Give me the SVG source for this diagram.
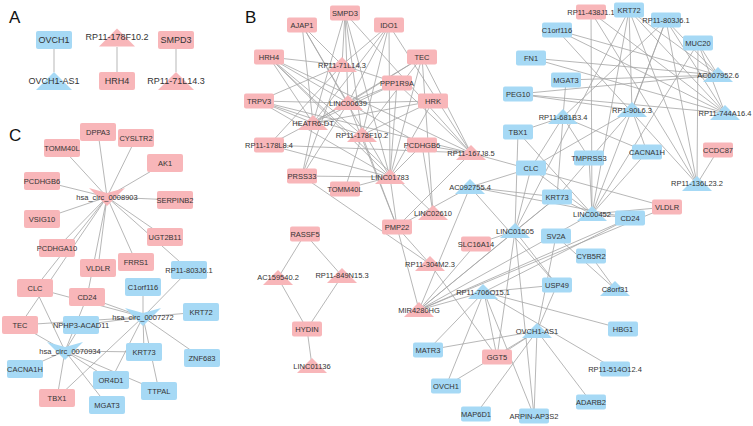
<svg xmlns="http://www.w3.org/2000/svg" xmlns:xlink="http://www.w3.org/1999/xlink" width="753" height="426" viewBox="0 0 753 426">
<style>
.e{stroke:#a4a4a4;stroke-width:0.8;fill:none}
.p{fill:#f8b6b9}
.b{fill:#a6d9f5}
text{font-family:"Liberation Sans",Arial,sans-serif;font-size:7.5px;fill:#333;text-anchor:middle;dominant-baseline:central}
#panelA text{font-size:9px}
text.lbl{font-size:17px;text-anchor:start;dominant-baseline:auto;fill:#111}
</style>
<defs>
<rect id="rB" x="-15" y="-7.5" width="30" height="15" rx="2"/>
<polygon id="tB" points="0,-8 -15,7 15,7"/>
<rect id="rC" x="-18" y="-9" width="36" height="18" rx="2"/>
<polygon id="vC" points="-18,-9 0,-4 18,-9 0,9"/>
<polygon id="tA" points="0,-9 -18,9 18,9"/>
</defs>
<rect width="753" height="426" fill="#fff"/>
<text class="lbl" x="9" y="23">A</text>
<text class="lbl" x="245" y="23">B</text>
<text class="lbl" x="9" y="141">C</text>
<g id="edges">
<path class="e" d="M54 49L54 72M117 47L117 72M176 49L176 72"/>
<path class="e" d="M107 197L98 132M107 197L136 138M107 197L62 148M107 197L165 163M107 197L42 181M107 197L175 200M107 197L42 219M107 197L165 237M107 197L57 248M107 197L136 262M107 197L98 268M107 197L87 297M107 197L35 288M107 197L20 325M107 197L189 270"/>
<path class="e" d="M143 317L143 287M143 317L189 270M143 317L201 312M143 317L202 358M143 317L144 352M143 317L159 391M143 317L111 380M143 317L57 398M143 317L81 325M143 317L20 325M143 317L35 288M143 317L87 297"/>
<path class="e" d="M65 351L35 288M65 351L20 325M65 351L87 297M65 351L25 369M65 351L57 398M65 351L107 405M65 351L111 380M65 351L159 391M65 351L144 352M65 351L81 325"/>
<path class="e" d="M342 65L345 13M342 65L302 25M342 65L389 25M342 65L269 57M342 65L397 83M342 65L259 101M342 65L269 145M342 65L302 176"/>
<path class="e" d="M348 103L345 13M348 103L302 25M348 103L389 25M348 103L269 57M348 103L422 57M348 103L397 83M348 103L259 101M348 103L433 101M348 103L269 145M348 103L422 145M348 103L302 176M348 103L397 227"/>
<path class="e" d="M313 123L345 13M313 123L302 25M313 123L389 25M313 123L269 57M313 123L422 57M313 123L397 83M313 123L259 101M313 123L433 101M313 123L302 176"/>
<path class="e" d="M362 135L345 13M362 135L389 25M362 135L269 57M362 135L422 57M362 135L259 101M362 135L433 101M362 135L345 189M362 135L397 227"/>
<path class="e" d="M390 177L345 13M390 177L302 25M390 177L389 25M390 177L269 57M390 177L422 57M390 177L397 83M390 177L259 101M390 177L433 101M390 177L269 145M390 177L422 145M390 177L302 176M390 177L345 189M390 177L397 227"/>
<path class="e" d="M471 153L345 13M471 153L389 25M471 153L269 57M471 153L422 57M471 153L397 83M471 153L259 101M471 153L269 145M471 153L422 145M471 153L397 227M471 153L667 207"/>
<path class="e" d="M433 213L422 57M433 213L422 145M433 213L269 57"/>
<path class="e" d="M430 264L302 176M430 264L397 227M430 264L497 357"/>
<path class="e" d="M419 310L397 227M419 310L470 187M419 310L476 244M419 310L484 292M419 310L630 218M419 310L667 207M419 310L557 197"/>
<path class="e" d="M470 187L397 227M470 187L531 168M470 187L557 197M470 187L557 285M470 187L630 218"/>
<path class="e" d="M305 234L278 278M305 234L342 276M307 329L278 278M307 329L342 276M307 329L312 366"/>
<path class="e" d="M592 214L591 12M592 214L629 10M592 214L666 20M592 214L698 43M592 214L589 158M592 214L647 152M592 214L531 168M592 214L557 197M592 214L630 218M592 214L667 207M592 214L518 132M592 214L419 310"/>
<path class="e" d="M563 117L566 80M563 117L518 132M563 117L531 168M563 117L557 197M563 117L589 158M563 117L647 152M563 117L666 20"/>
<path class="e" d="M632 110L629 10M632 110L666 20M632 110L531 168M632 110L557 197M632 110L647 152M632 110L518 94"/>
<path class="e" d="M725 113L591 12M725 113L629 10M725 113L666 20M725 113L557 30M725 113L698 43M725 113L531 58M725 113L518 94"/>
<path class="e" d="M718 75L666 20M718 75L698 43M718 75L557 30M718 75L531 58M718 75L518 94M718 75L566 80M718 75L629 10"/>
<path class="e" d="M697 184L629 10M697 184L666 20M697 184L698 43M697 184L718 150M697 184L557 30M697 184L591 12"/>
<path class="e" d="M515 231L518 132M515 231L531 168M515 231L557 197M515 231L476 244M515 231L557 285M515 231L534 416M515 231L497 357M515 231L629 10M515 231L419 310"/>
<path class="e" d="M484 292L428 350M484 292L446 386M484 292L557 285M484 292L623 329M484 292L497 357M484 292L615 369M484 292L534 416M484 292L630 218"/>
<path class="e" d="M537 331L446 386M537 331L557 285M537 331L556 236M537 331L428 350M537 331L497 357M537 331L476 414M537 331L534 416M537 331L591 402"/>
<path class="e" d="M615 289L591 256M615 289L556 236"/>
</g>
<g id="panelA">
<g id="a-ovch1"><use xlink:href="#rC" class="b" x="54" y="40"/><text x="54" y="40">OVCH1</text></g>
<g id="a-ovch1-as1"><use xlink:href="#tA" class="b" x="54" y="81"/><text x="54" y="81">OVCH1-AS1</text></g>
<g id="a-rp11-178f10-2"><use xlink:href="#tA" class="p" x="117" y="37.5"/><text x="117" y="37">RP11-178F10.2</text></g>
<g id="a-hrh4"><use xlink:href="#rC" class="p" x="117" y="81"/><text x="117" y="81">HRH4</text></g>
<g id="a-smpd3"><use xlink:href="#rC" class="p" x="176" y="40"/><text x="176" y="40">SMPD3</text></g>
<g id="a-rp11-71l14-3"><use xlink:href="#tA" class="p" x="176" y="81"/><text x="176" y="81">RP11-71L14.3</text></g>
</g>
<g id="panelC">
<g id="c-dppa3"><use xlink:href="#rC" class="p" x="98" y="132"/><text x="98" y="132">DPPA3</text></g>
<g id="c-cysltr2"><use xlink:href="#rC" class="p" x="136" y="138"/><text x="136" y="138">CYSLTR2</text></g>
<g id="c-tomm40l"><use xlink:href="#rC" class="p" x="62" y="148"/><text x="62" y="148">TOMM40L</text></g>
<g id="c-ak1"><use xlink:href="#rC" class="p" x="165" y="163"/><text x="165" y="163">AK1</text></g>
<g id="c-pcdhgb6"><use xlink:href="#rC" class="p" x="42" y="181"/><text x="42" y="181">PCDHGB6</text></g>
<g id="c-serpinb2"><use xlink:href="#rC" class="p" x="175" y="200"/><text x="175" y="200">SERPINB2</text></g>
<g id="c-vsig10"><use xlink:href="#rC" class="p" x="42" y="219"/><text x="42" y="219">VSIG10</text></g>
<g id="c-ugt2b11"><use xlink:href="#rC" class="p" x="165" y="237"/><text x="165" y="237">UGT2B11</text></g>
<g id="c-pcdhga10"><use xlink:href="#rC" class="p" x="57" y="248"/><text x="57" y="248">PCDHGA10</text></g>
<g id="c-frrs1"><use xlink:href="#rC" class="p" x="136" y="262"/><text x="136" y="262">FRRS1</text></g>
<g id="c-vldlr"><use xlink:href="#rC" class="p" x="98" y="268"/><text x="98" y="268">VLDLR</text></g>
<g id="c-clc"><use xlink:href="#rC" class="p" x="35" y="288"/><text x="35" y="288">CLC</text></g>
<g id="c-cd24"><use xlink:href="#rC" class="p" x="87" y="297"/><text x="87" y="297">CD24</text></g>
<g id="c-tec"><use xlink:href="#rC" class="p" x="20" y="325"/><text x="20" y="325">TEC</text></g>
<g id="c-tbx1"><use xlink:href="#rC" class="p" x="57" y="398"/><text x="57" y="398">TBX1</text></g>
<g id="c-rp11-803j6-1"><use xlink:href="#rC" class="b" x="189" y="270"/><text x="189" y="270">RP11-803J6.1</text></g>
<g id="c-c1orf116"><use xlink:href="#rC" class="b" x="143" y="287"/><text x="143" y="287">C1orf116</text></g>
<g id="c-krt72"><use xlink:href="#rC" class="b" x="201" y="312"/><text x="201" y="312">KRT72</text></g>
<g id="c-nphp3-acad11"><use xlink:href="#rC" class="b" x="81" y="325"/><text x="81" y="325">NPHP3-ACAD11</text></g>
<g id="c-krt73"><use xlink:href="#rC" class="b" x="144" y="352"/><text x="144" y="352">KRT73</text></g>
<g id="c-znf683"><use xlink:href="#rC" class="b" x="202" y="358"/><text x="202" y="358">ZNF683</text></g>
<g id="c-cacna1h"><use xlink:href="#rC" class="b" x="25" y="369"/><text x="25" y="369">CACNA1H</text></g>
<g id="c-or4d1"><use xlink:href="#rC" class="b" x="111" y="380"/><text x="111" y="380">OR4D1</text></g>
<g id="c-ttpal"><use xlink:href="#rC" class="b" x="159" y="391"/><text x="159" y="391">TTPAL</text></g>
<g id="c-mgat3"><use xlink:href="#rC" class="b" x="107" y="405"/><text x="107" y="405">MGAT3</text></g>
<g id="c-hsa-circ-0008903"><use xlink:href="#vC" class="p" x="107" y="197"/><text x="107" y="197">hsa_circ_0008903</text></g>
<g id="c-hsa-circ-0007272"><use xlink:href="#vC" class="b" x="143" y="317"/><text x="143" y="317">hsa_circ_0007272</text></g>
<g id="c-hsa-circ-0070934"><use xlink:href="#vC" class="b" x="65" y="351"/><text x="70" y="351">hsa_circ_0070934</text></g>
</g>
<g id="panelB">
<g id="b-smpd3"><use xlink:href="#rB" class="p" x="345" y="13"/><text x="345" y="13">SMPD3</text></g>
<g id="b-ajap1"><use xlink:href="#rB" class="p" x="302" y="25"/><text x="302" y="25">AJAP1</text></g>
<g id="b-ido1"><use xlink:href="#rB" class="p" x="389" y="25"/><text x="389" y="25">IDO1</text></g>
<g id="b-hrh4"><use xlink:href="#rB" class="p" x="269" y="57"/><text x="269" y="57">HRH4</text></g>
<g id="b-tec"><use xlink:href="#rB" class="p" x="422" y="57"/><text x="422" y="57">TEC</text></g>
<g id="b-ppp1r9a"><use xlink:href="#rB" class="p" x="397" y="83"/><text x="397" y="83">PPP1R9A</text></g>
<g id="b-trpv3"><use xlink:href="#rB" class="p" x="259" y="101"/><text x="259" y="101">TRPV3</text></g>
<g id="b-hrk"><use xlink:href="#rB" class="p" x="433" y="101"/><text x="433" y="101">HRK</text></g>
<g id="b-rp11-178l8-4"><use xlink:href="#rB" class="p" x="269" y="145"/><text x="269" y="145">RP11-178L8.4</text></g>
<g id="b-pcdhgb6"><use xlink:href="#rB" class="p" x="422" y="145"/><text x="422" y="145">PCDHGB6</text></g>
<g id="b-prss33"><use xlink:href="#rB" class="p" x="302" y="176"/><text x="302" y="176">PRSS33</text></g>
<g id="b-tomm40l"><use xlink:href="#rB" class="p" x="345" y="189"/><text x="345" y="189">TOMM40L</text></g>
<g id="b-pmp22"><use xlink:href="#rB" class="p" x="397" y="227"/><text x="397" y="227">PMP22</text></g>
<g id="b-slc16a14"><use xlink:href="#rB" class="p" x="476" y="244"/><text x="476" y="244">SLC16A14</text></g>
<g id="b-rassf5"><use xlink:href="#rB" class="p" x="305" y="234"/><text x="305" y="234">RASSF5</text></g>
<g id="b-hydin"><use xlink:href="#rB" class="p" x="307" y="329"/><text x="307" y="329">HYDIN</text></g>
<g id="b-ggt5"><use xlink:href="#rB" class="p" x="497" y="357"/><text x="497" y="357">GGT5</text></g>
<g id="b-vldlr"><use xlink:href="#rB" class="p" x="667" y="207"/><text x="667" y="207">VLDLR</text></g>
<g id="b-ccdc87"><use xlink:href="#rB" class="p" x="718" y="150"/><text x="718" y="150">CCDC87</text></g>
<g id="b-rp11-438j1-1"><use xlink:href="#rB" class="p" x="591" y="12"/><text x="591" y="12">RP11-438J1.1</text></g>
<g id="b-rp11-71l14-3"><use xlink:href="#tB" class="p" x="342" y="65"/><text x="342" y="65">RP11-71L14.3</text></g>
<g id="b-linc00639"><use xlink:href="#tB" class="p" x="348" y="103"/><text x="348" y="103">LINC00639</text></g>
<g id="b-heatr6-dt"><use xlink:href="#tB" class="p" x="313" y="123"/><text x="313" y="123">HEATR6-DT</text></g>
<g id="b-rp11-178f10-2"><use xlink:href="#tB" class="p" x="362" y="135"/><text x="362" y="135">RP11-178F10.2</text></g>
<g id="b-rp11-167j8-5"><use xlink:href="#tB" class="p" x="471" y="153"/><text x="471" y="153">RP11-167J8.5</text></g>
<g id="b-linc01783"><use xlink:href="#tB" class="p" x="390" y="177"/><text x="390" y="177">LINC01783</text></g>
<g id="b-linc02610"><use xlink:href="#tB" class="p" x="433" y="213"/><text x="433" y="213">LINC02610</text></g>
<g id="b-rp11-304m2-3"><use xlink:href="#tB" class="p" x="430" y="264"/><text x="430" y="264">RP11-304M2.3</text></g>
<g id="b-ac159540-2"><use xlink:href="#tB" class="p" x="278" y="278"/><text x="278" y="277">AC159540.2</text></g>
<g id="b-rp11-849n15-3"><use xlink:href="#tB" class="p" x="342" y="276"/><text x="342" y="275">RP11-849N15.3</text></g>
<g id="b-linc01136"><use xlink:href="#tB" class="p" x="312" y="366"/><text x="312" y="366">LINC01136</text></g>
<g id="b-mir4280hg"><use xlink:href="#tB" class="p" x="419" y="310"/><text x="419" y="310">MIR4280HG</text></g>
<g id="b-ac092755-4"><use xlink:href="#tB" class="b" x="470" y="187"/><text x="470" y="187">AC092755.4</text></g>
<g id="b-rp11-706o15-1"><use xlink:href="#tB" class="b" x="483" y="292"/><text x="483" y="292">RP11-706O15.1</text></g>
<g id="b-ovch1-as1"><use xlink:href="#tB" class="b" x="537" y="331"/><text x="537" y="331">OVCH1-AS1</text></g>
<g id="b-linc01505"><use xlink:href="#tB" class="b" x="515" y="231"/><text x="515" y="231">LINC01505</text></g>
<g id="b-linc00452"><use xlink:href="#tB" class="b" x="592" y="214"/><text x="592" y="214">LINC00452</text></g>
<g id="b-rp11-136l23-2"><use xlink:href="#tB" class="b" x="697" y="184"/><text x="697" y="183">RP11-136L23.2</text></g>
<g id="b-rp11-681b3-4"><use xlink:href="#tB" class="b" x="563" y="117"/><text x="563" y="117">RP11-681B3.4</text></g>
<g id="b-rp1-90l6-3"><use xlink:href="#tB" class="b" x="632" y="110"/><text x="632" y="110">RP1-90L6.3</text></g>
<g id="b-rp11-744a16-4"><use xlink:href="#tB" class="b" x="725" y="113"/><text x="725" y="113">RP11-744A16.4</text></g>
<g id="b-ac007952-6"><use xlink:href="#tB" class="b" x="718" y="75"/><text x="718" y="75">AC007952.6</text></g>
<g id="b-c8orf31"><use xlink:href="#tB" class="b" x="615" y="289"/><text x="615" y="289">C8orf31</text></g>
<g id="b-matr3"><use xlink:href="#rB" class="b" x="428" y="350"/><text x="428" y="350">MATR3</text></g>
<g id="b-ovch1"><use xlink:href="#rB" class="b" x="446" y="386"/><text x="446" y="386">OVCH1</text></g>
<g id="b-map6d1"><use xlink:href="#rB" class="b" x="476" y="414"/><text x="476" y="414">MAP6D1</text></g>
<g id="b-arpin-ap3s2"><use xlink:href="#rB" class="b" x="534" y="416"/><text x="534" y="416">ARPIN-AP3S2</text></g>
<g id="b-adarb2"><use xlink:href="#rB" class="b" x="591" y="402"/><text x="591" y="402">ADARB2</text></g>
<g id="b-rp11-514o12-4"><use xlink:href="#rB" class="b" x="615" y="369"/><text x="615" y="369">RP11-514O12.4</text></g>
<g id="b-hbg1"><use xlink:href="#rB" class="b" x="623" y="329"/><text x="623" y="329">HBG1</text></g>
<g id="b-usp49"><use xlink:href="#rB" class="b" x="557" y="285"/><text x="557" y="285">USP49</text></g>
<g id="b-cyb5r2"><use xlink:href="#rB" class="b" x="591" y="256"/><text x="591" y="256">CYB5R2</text></g>
<g id="b-sv2a"><use xlink:href="#rB" class="b" x="556" y="236"/><text x="556" y="236">SV2A</text></g>
<g id="b-cd24"><use xlink:href="#rB" class="b" x="630" y="218"/><text x="630" y="218">CD24</text></g>
<g id="b-krt73"><use xlink:href="#rB" class="b" x="557" y="197"/><text x="557" y="197">KRT73</text></g>
<g id="b-clc"><use xlink:href="#rB" class="b" x="531" y="168"/><text x="531" y="168">CLC</text></g>
<g id="b-tmprss3"><use xlink:href="#rB" class="b" x="589" y="158"/><text x="589" y="158">TMPRSS3</text></g>
<g id="b-cacna1h"><use xlink:href="#rB" class="b" x="647" y="152"/><text x="647" y="152">CACNA1H</text></g>
<g id="b-tbx1"><use xlink:href="#rB" class="b" x="518" y="132"/><text x="518" y="132">TBX1</text></g>
<g id="b-peg10"><use xlink:href="#rB" class="b" x="518" y="94"/><text x="518" y="94">PEG10</text></g>
<g id="b-mgat3"><use xlink:href="#rB" class="b" x="566" y="80"/><text x="566" y="80">MGAT3</text></g>
<g id="b-fn1"><use xlink:href="#rB" class="b" x="531" y="58"/><text x="531" y="58">FN1</text></g>
<g id="b-c1orf116"><use xlink:href="#rB" class="b" x="557" y="30"/><text x="557" y="30">C1orf116</text></g>
<g id="b-muc20"><use xlink:href="#rB" class="b" x="698" y="43"/><text x="698" y="43">MUC20</text></g>
<g id="b-krt72"><use xlink:href="#rB" class="b" x="629" y="10"/><text x="629" y="10">KRT72</text></g>
<g id="b-rp11-803j6-1"><use xlink:href="#rB" class="b" x="666" y="20"/><text x="666" y="20">RP11-803J6.1</text></g>
</g>
</svg>
